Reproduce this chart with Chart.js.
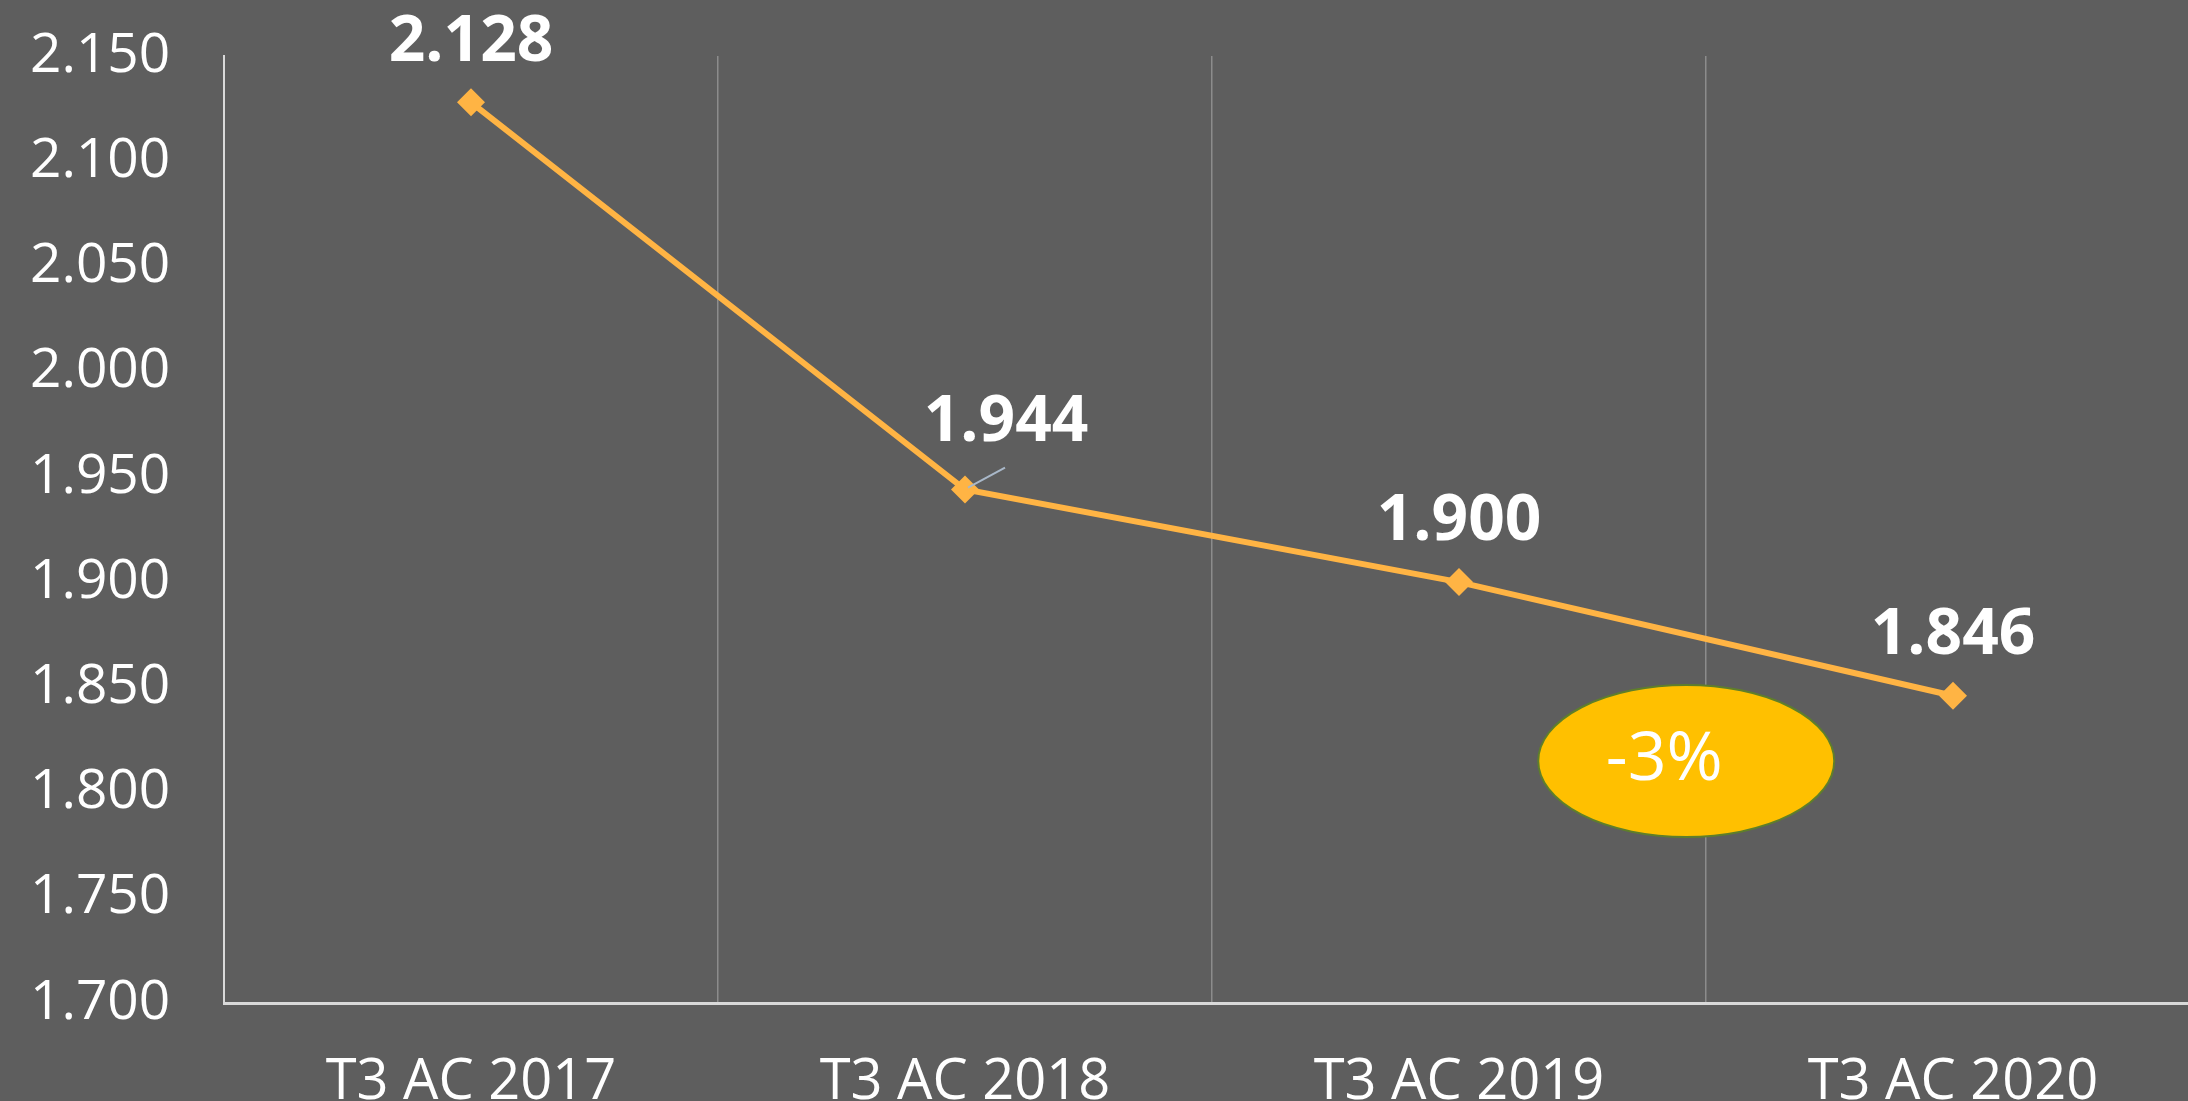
<!DOCTYPE html>
<html>
<head>
    <title>T3 AC 2017-2020</title>
    <script src="https://cdn.jsdelivr.net/npm/chart.js"></script>
    <style>
        html, body { margin: 0; padding: 0; background: #5e5e5e; overflow: hidden; }
        #trendChart { position: absolute; left: 0; top: 0; }
    </style>
</head>
<body>
    <canvas id="trendChart" width="2200" height="1130" style="width:2200px;height:1130px"></canvas>

    <script>
        const categories = ['T3 AC 2017', 'T3 AC 2018', 'T3 AC 2019', 'T3 AC 2020'];
        const values = [2128, 1944, 1900, 1846];
        const yTicks = [1700, 1750, 1800, 1850, 1900, 1950, 2000, 2050, 2100, 2150];
        const badgeText = '-3%';

        const FONT = '"Open Sans", "Noto Sans", sans-serif';
        const LINE = '#ffb444';

        // 2128 -> "2.128"
        function fmt(v) {
            const n = Math.round(v);
            return Math.floor(n / 1000) + '.' + String(n % 1000).padStart(3, '0');
        }

        const overlay = {
            id: 'overlay',
            afterDatasetsDraw(chart) {
                const ctx = chart.ctx;
                const x = chart.scales.x, y = chart.scales.y;
                const pts = chart.getDatasetMeta(0).data;
                ctx.save();

                // -3% badge between 2019 and 2020
                const bx = x.getPixelForValue(2.46), by = y.getPixelForValue(1815);
                ctx.beginPath();
                ctx.ellipse(bx, by, 148, 76, 0, 0, Math.PI * 2);
                ctx.fillStyle = '#ffc000';
                ctx.fill();
                ctx.lineWidth = 2;
                ctx.strokeStyle = '#5f7f2a';
                ctx.stroke();
                ctx.fillStyle = '#ffffff';
                ctx.font = '400 68px ' + FONT;
                ctx.textAlign = 'center';
                ctx.textBaseline = 'middle';
                ctx.fillText(badgeText, bx - 22, by);

                // value labels
                ctx.font = '700 64px ' + FONT;
                pts.forEach((p, i) => {
                    let lx = p.x, ly = p.y - 60;
                    if (i === 1) {
                        lx = p.x + 41; ly = p.y - 67;
                        ctx.beginPath();
                        ctx.moveTo(p.x + 3, p.y - 2);
                        ctx.lineTo(p.x + 40, p.y - 22);
                        ctx.strokeStyle = '#a9b8c9';
                        ctx.lineWidth = 2;
                        ctx.stroke();
                    }
                    ctx.fillStyle = '#ffffff';
                    ctx.fillText(fmt(values[i]), lx, ly);
                });
                ctx.restore();
            }
        };

        const ctx = document.getElementById('trendChart').getContext('2d');
        const chart = new Chart(ctx, {
            type: 'line',
            data: {
                labels: categories,
                datasets: [{
                    data: values,
                    borderColor: LINE,
                    backgroundColor: LINE,
                    borderWidth: 6,
                    tension: 0,
                    pointStyle: 'rectRot',
                    pointRadius: 14,
                    pointBorderWidth: 0,
                    pointBackgroundColor: LINE
                }]
            },
            plugins: [overlay],
            options: {
                responsive: false,
                animation: false,
                layout: { autoPadding: false, padding: { top: 56, left: 30, right: 0, bottom: 0 } },
                plugins: { legend: { display: false }, tooltip: { enabled: false } },
                scales: {
                    x: {
                        offset: true,
                        grid: { display: true, offset: true, color: '#8c8c8c', lineWidth: 1.5, drawTicks: false },
                        border: { display: true, color: '#d9d9d9', width: 3 },
                        ticks: { color: '#ffffff', font: { family: FONT, size: 56 }, padding: 46, maxRotation: 0 },
                        afterFit(s) { s.height = 127; }
                    },
                    y: {
                        min: 1700,
                        max: 2150,
                        afterBuildTicks(s) { s.ticks = yTicks.map(v => ({ value: v })); },
                        grid: { display: false, drawTicks: false },
                        border: { display: true, color: '#d9d9d9', width: 2 },
                        ticks: { color: '#ffffff', font: { family: FONT, size: 55 }, padding: 0, crossAlign: 'far', callback: v => fmt(v) },
                        afterFit(s) { s.width = 194; }
                    }
                }
            }
        });
    </script>
</body>
</html>
